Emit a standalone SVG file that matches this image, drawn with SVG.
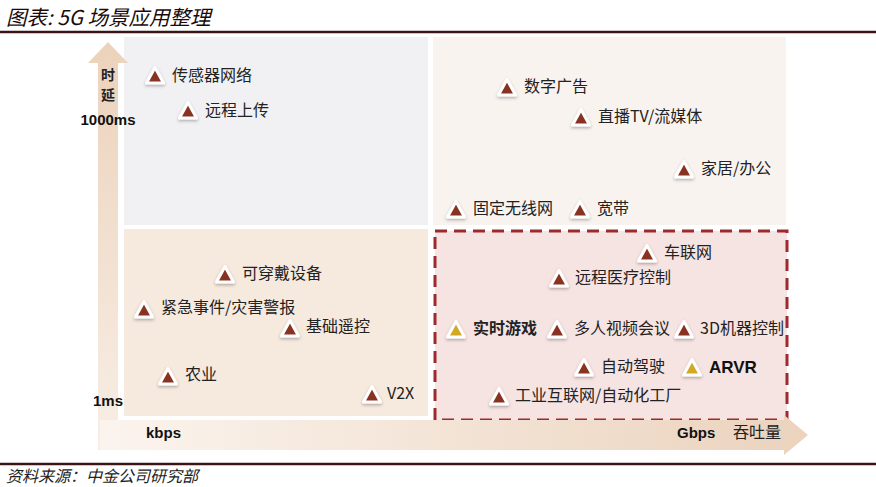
<svg xmlns="http://www.w3.org/2000/svg" width="876" height="487" viewBox="0 0 876 487">
<defs>
<linearGradient id="gv" x1="0" y1="0" x2="0" y2="1">
<stop offset="0" stop-color="#ebd2bb"/>
<stop offset="1" stop-color="#f8eee5"/>
</linearGradient>
<linearGradient id="gh" x1="0" y1="0" x2="1" y2="0">
<stop offset="0" stop-color="#fbf4ee"/>
<stop offset="1" stop-color="#ebd3bd"/>
</linearGradient>
<filter id="sh" x="-50%" y="-50%" width="200%" height="200%">
<feDropShadow dx="0" dy="1.5" stdDeviation="1.5" flood-color="#000" flood-opacity="0.3"/>
</filter>
<path id="tri" d="M0,-8.5 L8.5,7 L-8.5,7 Z"/>
</defs>
<style>
.lbl{font-family:"Noto Sans CJK SC","Noto Sans",sans-serif;font-size:16px;fill:#222;}
.ax{font-family:"Liberation Sans",Arial,sans-serif;font-size:15px;font-weight:bold;fill:#111;}
.bold{font-weight:bold;}
.t{stroke:#fff;stroke-width:3;stroke-linejoin:round;filter:url(#sh);}
.red{fill:#8a3220;}
.gold{fill:#d3a824;}
.rule{stroke:#3b1515;stroke-width:2.5;}
</style>
<rect width="876" height="487" fill="#fff"/>
<text x="6" y="25" style="font-family:'Noto Sans CJK SC',sans-serif;font-size:20.5px;font-style:italic;fill:#1a0a0a;">图表: 5G 场景应用整理</text>
<line class="rule" x1="0" y1="32" x2="876" y2="32"/>
<line class="rule" x1="0" y1="464" x2="876" y2="464"/>
<text x="6" y="482" style="font-family:'Noto Sans CJK SC',sans-serif;font-size:16px;font-style:italic;fill:#222;">资料来源：中金公司研究部</text>

<g id="quadrants">
<rect x="124" y="37" width="304" height="188" fill="#f1f1f4"/>
<rect x="433" y="37" width="353" height="188" fill="#f8f3ef"/>
<rect x="124" y="229" width="304" height="187" fill="#f6e9de"/>
<rect x="435" y="231" width="352" height="189" fill="#f6e4e2" stroke="#9e2a2e" stroke-width="3" stroke-dasharray="12,7"/>
</g>

<g id="axes">
<path d="M98,63 L88,63 L108,42 L128,63 L118,63 L118,450 L98,450 Z" fill="url(#gv)"/>
<path d="M100,420 L784,420 L784,415 L808,435 L784,455 L784,450 L100,450 Z" fill="url(#gh)"/>
<text class="lbl" x="108" y="80" text-anchor="middle" font-weight="bold" style="font-size:14px">时</text>
<text class="lbl" x="108" y="100" text-anchor="middle" font-weight="bold" style="font-size:14px">延</text>
<text class="ax" x="108" y="125" text-anchor="middle">1000ms</text>
<text class="ax" x="108" y="406" text-anchor="middle">1ms</text>
<text class="ax" x="146" y="438">kbps</text>
<text class="ax" x="677" y="438">Gbps</text>
<text class="lbl" x="733" y="438">吞吐量</text>
</g>

<g id="n1"><use href="#tri" class="t red" x="155" y="76"/><text class="lbl" x="172" y="81">传感器网络</text></g>
<g id="n2"><use href="#tri" class="t red" x="188" y="111"/><text class="lbl" x="205" y="116">远程上传</text></g>
<g id="n3"><use href="#tri" class="t red" x="507" y="88"/><text class="lbl" x="524" y="92">数字广告</text></g>
<g id="n4"><use href="#tri" class="t red" x="581" y="118"/><text class="lbl" x="598" y="122">直播TV/流媒体</text></g>
<g id="n5"><use href="#tri" class="t red" x="684" y="170"/><text class="lbl" x="701" y="174">家居/办公</text></g>
<g id="n6"><use href="#tri" class="t red" x="456" y="210"/><text class="lbl" x="473" y="214">固定无线网</text></g>
<g id="n7"><use href="#tri" class="t red" x="580" y="210"/><text class="lbl" x="597" y="214">宽带</text></g>
<g id="n8"><use href="#tri" class="t red" x="225" y="275"/><text class="lbl" x="242" y="279">可穿戴设备</text></g>
<g id="n9"><use href="#tri" class="t red" x="144" y="310"/><text class="lbl" x="161" y="313">紧急事件/灾害警报</text></g>
<g id="n10"><use href="#tri" class="t red" x="290" y="329"/><text class="lbl" x="306" y="332">基础遥控</text></g>
<g id="n11"><use href="#tri" class="t red" x="168" y="377"/><text class="lbl" x="185" y="380">农业</text></g>
<g id="n12"><use href="#tri" class="t red" x="372" y="395"/><text class="lbl" x="387" y="399">V2X</text></g>
<g id="n13"><use href="#tri" class="t red" x="647" y="254"/><text class="lbl" x="664" y="258">车联网</text></g>
<g id="n14"><use href="#tri" class="t red" x="559" y="279"/><text class="lbl" x="575" y="283">远程医疗控制</text></g>
<g id="n15"><use href="#tri" class="t gold" x="456" y="330"/><text class="lbl bold" x="473" y="334">实时游戏</text></g>
<g id="n16"><use href="#tri" class="t red" x="557" y="330"/><text class="lbl" x="574" y="334">多人视频会议</text></g>
<g id="n17"><use href="#tri" class="t red" x="684" y="330"/><text class="lbl" x="700" y="334">3D机器控制</text></g>
<g id="n18"><use href="#tri" class="t red" x="584" y="368"/><text class="lbl" x="601" y="372">自动驾驶</text></g>
<g id="n19"><use href="#tri" class="t gold" x="692" y="368"/><text class="ax" x="709" y="373" style="font-size:17px">ARVR</text></g>
<g id="n20"><use href="#tri" class="t red" x="499" y="397"/><text class="lbl" x="515" y="401">工业互联网/自动化工厂</text></g>
<g id="connectors"/>
</svg>
